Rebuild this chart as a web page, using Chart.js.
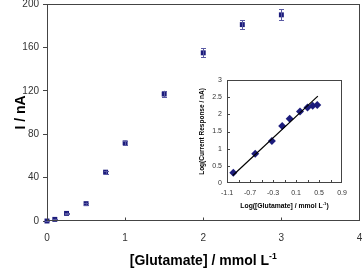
<!DOCTYPE html>
<html>
<head>
<meta charset="utf-8">
<script src="https://cdn.jsdelivr.net/npm/chart.js@4/dist/chart.umd.min.js"></script>
<style>
  html, body { margin: 0; padding: 0; background: #fff; }
  #wrap { position: relative; width: 363px; height: 268px; }
  #main { position: absolute; left: 0; top: 0; }
  #inset { position: absolute; left: 188px; top: 70px; }
</style>
</head>
<body>
<div id="wrap">
  <canvas id="main" width="363" height="268"></canvas>
  <canvas id="inset" width="165" height="150"></canvas>
</div>
<script>
// ---- Data ----
const CONC_MMOL = [0, 0.1, 0.25, 0.5, 0.75, 1, 1.5, 2, 2.5, 3];
const CURRENT_NA = [0, 1.5, 7, 16, 45, 72, 117, 155, 181, 190];
const CURRENT_ERR = [0.3, 0.5, 0.8, 1, 1.5, 2, 3, 4, 4, 5];
const MAIN_X_TICKS = [0, 1, 2, 3, 4];
const MAIN_Y_TICKS = [0, 40, 80, 120, 160, 200];

const LOG_CONC = [-0.99, -0.61, -0.32, -0.14, -0.01, 0.17, 0.30, 0.39, 0.47];
const LOG_CURRENT = [0.30, 0.85, 1.22, 1.66, 1.87, 2.08, 2.20, 2.25, 2.27];
const TREND_X = [-1.0, 0.48];
const TREND_Y = [0.22, 2.53];
const INSET_X_TICKS = [-1.1, -0.7, -0.3, 0.1, 0.5, 0.9];
const INSET_X_TICK_LABELS = ['-1.1', '-0.7', '-0.3', '0.1', '0.5', '0.9'];
const INSET_X_MINOR = [-0.9, -0.7, -0.5, -0.3, -0.1, 0.1, 0.3, 0.5, 0.7];
const INSET_Y_TICKS = [0, 0.5, 1, 1.5, 2, 2.5, 3];
const INSET_Y_TICK_LABELS = ['0', '0.5', '1', '1.5', '2', '2.5', '3'];

const FONT = "'Liberation Sans', Arial, Helvetica, sans-serif";
const MARK = '#1c1c7c';
const AXIS = '#444444';
const TXT = '#333333';

// frame, inner ticks and x-axis title with superscript
const framePlugin = {
  id: 'frame',
  afterDraw(chart, args, o) {
    const { ctx, chartArea: a } = chart;
    ctx.save();
    ctx.strokeStyle = AXIS;
    ctx.lineWidth = 1;
    const L = Math.round(a.left) + 0.5, T = Math.round(a.top) + 0.5;
    const R = Math.round(a.right) - 0.5, B = Math.round(a.bottom) - 0.5;
    ctx.strokeRect(L, T, R - L, B - T);
    const xs = chart.scales.x, ys = chart.scales.y;
    (o.xTicks || []).forEach(v => {
      const px = Math.round(xs.getPixelForValue(v)) + 0.5;
      ctx.beginPath(); ctx.moveTo(px, B); ctx.lineTo(px, B - o.tickLen); ctx.stroke();
    });
    (o.yTicks || []).forEach(v => {
      const py = Math.round(ys.getPixelForValue(v)) + 0.5;
      ctx.beginPath(); ctx.moveTo(L, py); ctx.lineTo(L + o.tickLen, py); ctx.stroke();
    });
    if (o.title) {
      ctx.fillStyle = '#000';
      ctx.textBaseline = 'alphabetic';
      ctx.textAlign = 'left';
      const mainFont = 'bold ' + o.titleSize + 'px ' + FONT;
      const supFont = 'bold ' + (o.titleSize * 0.62) + 'px ' + FONT;
      ctx.font = mainFont; const w1 = ctx.measureText(o.title).width;
      ctx.font = supFont; const w2 = ctx.measureText(o.sup).width;
      ctx.font = mainFont; const w3 = ctx.measureText(o.after || '').width;
      let x = (a.left + a.right) / 2 - (w1 + w2 + w3) / 2 + (o.titleDx || 0);
      const y = o.titleY;
      ctx.font = mainFont; ctx.fillText(o.title, x, y); x += w1;
      ctx.font = supFont; ctx.fillText(o.sup, x, y - o.titleSize * 0.42); x += w2;
      if (o.after) { ctx.font = mainFont; ctx.fillText(o.after, x, y); }
    }
    ctx.restore();
  }
};

const errorBarPlugin = {
  id: 'errbars',
  afterDatasetsDraw(chart, args, o) {
    if (!o.errors) return;
    const { ctx } = chart;
    const xs = chart.scales.x, ys = chart.scales.y;
    ctx.save();
    ctx.strokeStyle = '#5a5aa4';
    ctx.lineWidth = 1;
    CONC_MMOL.forEach((c, i) => {
      const px = Math.round(xs.getPixelForValue(c)) + 0.5;
      const y1 = ys.getPixelForValue(CURRENT_NA[i] + o.errors[i]);
      const y2 = ys.getPixelForValue(CURRENT_NA[i] - o.errors[i]);
      ctx.beginPath();
      ctx.moveTo(px, y1); ctx.lineTo(px, y2);
      ctx.moveTo(px - 2.5, Math.round(y1) + 0.5); ctx.lineTo(px + 2.5, Math.round(y1) + 0.5);
      ctx.moveTo(px - 2.5, Math.round(y2) + 0.5); ctx.lineTo(px + 2.5, Math.round(y2) + 0.5);
      ctx.stroke();
    });
    ctx.restore();
  }
};

function fixX(h) { return s => { s.height = h; s.paddingLeft = 0; s.paddingRight = 0; }; }
function fixY(w) { return s => { s.width = w; s.paddingTop = 0; s.paddingBottom = 0; }; }

new Chart(document.getElementById('main'), {
  type: 'scatter',
  data: {
    datasets: [{
      data: CONC_MMOL.map((c, i) => ({ x: c, y: CURRENT_NA[i] })),
      pointStyle: 'rect',
      pointRadius: 3.5,
      pointHoverRadius: 3.5,
      backgroundColor: MARK,
      borderColor: MARK,
      borderWidth: 0,
      clip: false
    }]
  },
  options: {
    responsive: false,
    animation: false,
    events: [],
    layout: { padding: { top: 4, right: 1, left: 0, bottom: 0 } },
    plugins: {
      legend: { display: false },
      tooltip: { enabled: false },
      frame: { xTicks: [1, 2, 3], tickLen: 3, title: '[Glutamate] / mmol L', sup: '-1', titleSize: 14, titleY: 265 },
      errbars: { errors: CURRENT_ERR }
    },
    scales: {
      x: {
        type: 'linear', min: 0, max: 4,
        afterFit: fixX(47),
        afterBuildTicks(s) { s.ticks = MAIN_X_TICKS.map(v => ({ value: v })); },
        grid: { display: false, drawTicks: false },
        border: { display: false },
        ticks: { padding: 11, color: TXT, font: { family: FONT, size: 10 } }
      },
      y: {
        type: 'linear', min: 0, max: 200,
        afterFit: fixY(47),
        afterBuildTicks(s) { s.ticks = MAIN_Y_TICKS.map(v => ({ value: v })); },
        grid: { drawOnChartArea: false, drawTicks: true, tickLength: 4, color: AXIS },
        border: { display: false },
        ticks: { padding: 4, color: TXT, font: { family: FONT, size: 10 } },
        title: { display: true, text: 'I / nA', color: '#000', padding: { top: 13, bottom: 0 }, font: { family: FONT, size: 14, weight: 'bold' } }
      }
    }
  },
  plugins: [framePlugin, errorBarPlugin]
});

new Chart(document.getElementById('inset'), {
  type: 'scatter',
  data: {
    datasets: [{
      type: 'line',
      data: TREND_X.map((x, i) => ({ x: x, y: TREND_Y[i] })),
      borderColor: '#000',
      borderWidth: 1.2,
      pointRadius: 0,
      fill: false,
      order: 0
    }, {
      data: LOG_CONC.map((x, i) => ({ x: x, y: LOG_CURRENT[i] })),
      pointStyle: 'rectRot',
      pointRadius: 4,
      pointHoverRadius: 4,
      backgroundColor: MARK,
      borderColor: MARK,
      borderWidth: 0,
      clip: false,
      order: 1
    }]
  },
  options: {
    responsive: false,
    animation: false,
    events: [],
    layout: { padding: { top: 10, right: 11, left: 0, bottom: 0 } },
    plugins: {
      legend: { display: false },
      tooltip: { enabled: false },
      frame: { xTicks: INSET_X_MINOR, yTicks: INSET_Y_TICKS.slice(1, -1), tickLen: 2.5, title: 'Log([Glutamate] / mmol L', sup: '-1', after: ')', titleSize: 6.8, titleY: 138 },
      errbars: {}
    },
    scales: {
      x: {
        type: 'linear', min: -1.1, max: 0.9,
        afterFit: fixX(37),
        afterBuildTicks(s) { s.ticks = INSET_X_TICKS.map(v => ({ value: v })); },
        grid: { display: false, drawTicks: false },
        border: { display: false },
        ticks: {
          padding: 6, color: TXT, font: { family: FONT, size: 7 },
          callback: (v, i) => INSET_X_TICK_LABELS[i]
        }
      },
      y: {
        type: 'linear', min: 0, max: 3,
        afterFit: fixY(39),
        afterBuildTicks(s) { s.ticks = INSET_Y_TICKS.map(v => ({ value: v })); },
        grid: { display: false, drawTicks: false },
        border: { display: false },
        ticks: {
          padding: 5, color: TXT, font: { family: FONT, size: 7 },
          callback: (v, i) => INSET_Y_TICK_LABELS[i]
        },
        title: { display: true, text: 'Log(Current Response / nA)', color: '#000', padding: { top: 10, bottom: 0 }, font: { family: FONT, size: 6.5, weight: 'bold' } }
      }
    }
  },
  plugins: [framePlugin]
});
</script>
</body>
</html>
